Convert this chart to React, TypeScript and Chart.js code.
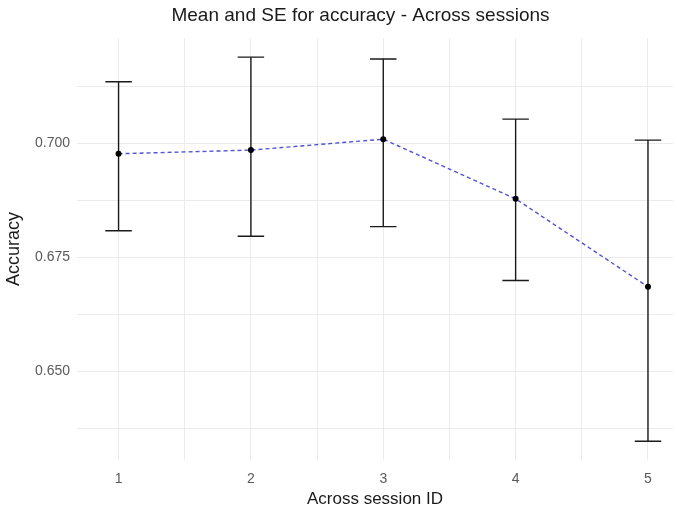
import React, { useEffect, useRef } from "react";
import { Chart, registerables } from "chart.js";

Chart.register(...registerables);

const sessions = [1, 2, 3, 4, 5];
const meanAcc = [0.6977, 0.6985, 0.7009, 0.6878, 0.6685];
const upperAcc = [0.7135, 0.7189, 0.7185, 0.7053, 0.7007];
const lowerAcc = [0.6808, 0.6796, 0.6817, 0.6699, 0.6346];

const xTicks = [1, 1.5, 2, 2.5, 3, 3.5, 4, 4.5, 5];
const xLabels = ["1", "2", "3", "4", "5"];
const yTicks = [0.6375, 0.65, 0.6625, 0.675, 0.6875, 0.7, 0.7125];
const yLabels = ["0.650", "0.675", "0.700"];
const chartTitle = "Mean and SE for accuracy - Across sessions";

const FONT = "'Liberation Sans', Arial, sans-serif";

const errorBarPlugin = {
  id: "errorBars",
  beforeDatasetsDraw(chart: any) {
    const { ctx, scales } = chart;
    const xs = scales.x;
    const ys = scales.y;
    ctx.save();
    ctx.strokeStyle = "#1a1a1a";
    ctx.lineWidth = 1.4;
    sessions.forEach((s, i) => {
      const x = xs.getPixelForValue(s);
      const xl = xs.getPixelForValue(s - 0.1);
      const xr = xs.getPixelForValue(s + 0.1);
      const yt = ys.getPixelForValue(upperAcc[i]);
      const yb = ys.getPixelForValue(lowerAcc[i]);
      ctx.beginPath();
      ctx.moveTo(x, yt);
      ctx.lineTo(x, yb);
      ctx.moveTo(xl, yt);
      ctx.lineTo(xr, yt);
      ctx.moveTo(xl, yb);
      ctx.lineTo(xr, yb);
      ctx.stroke();
    });
    ctx.restore();
  },
  afterDraw(chart: any) {
    const { ctx } = chart;
    ctx.save();
    ctx.fillStyle = "#1a1a1a";
    ctx.font = `19px ${FONT}`;
    ctx.textAlign = "center";
    ctx.textBaseline = "middle";
    ctx.fillText(chartTitle, 360.5, 16);
    ctx.restore();
  },
};

export default function App() {
  const ref = useRef<HTMLCanvasElement | null>(null);
  useEffect(() => {
    if (!ref.current) return;
    const chart = new Chart(ref.current, {
      type: "line",
      data: {
        datasets: [
          {
            data: sessions.map((s, i) => ({ x: s, y: meanAcc[i] })),
            borderColor: "#5252d6",
            borderWidth: 1.4,
            borderDash: [4, 3],
            pointRadius: 3,
            pointBackgroundColor: "#000000",
            pointBorderWidth: 0,
            tension: 0,
          },
        ],
      },
      options: {
        animation: false,
        responsive: false,
        maintainAspectRatio: false,
        layout: { padding: { left: 0, right: 0, top: 38, bottom: 2 } },
        plugins: {
          legend: { display: false },
          tooltip: { enabled: false },
          title: { display: false },
        },
        scales: {
          x: {
            type: "linear",
            min: 0.686,
            max: 5.189,
            afterBuildTicks: (axis: any) => {
              axis.ticks = xTicks.map((v) => ({ value: v }));
            },
            afterFit: (axis: any) => {
              axis.height = 50;
            },
            ticks: {
              autoSkip: false,
              maxRotation: 0,
              color: "#5a5a5a",
              padding: 11,
              font: { family: FONT, size: 14 },
              callback: (v: any) => (xLabels.includes(String(v)) ? String(v) : ""),
            },
            grid: { color: "#ebebeb", drawTicks: false, lineWidth: 1 },
            border: { display: false },
            title: {
              display: true,
              text: "Across session ID",
              color: "#1a1a1a",
              font: { family: FONT, size: 17 },
              padding: { top: 0, bottom: 0 },
            },
          },
          y: {
            type: "linear",
            min: 0.6305,
            max: 0.7231,
            afterBuildTicks: (axis: any) => {
              axis.ticks = yTicks.map((v) => ({ value: v }));
            },
            afterFit: (axis: any) => {
              axis.width = 77;
            },
            ticks: {
              autoSkip: false,
              color: "#5a5a5a",
              padding: 7,
              font: { family: FONT, size: 14 },
              callback: (v: any) => {
                const s = Number(v).toFixed(3);
                return yLabels.includes(s) && Math.abs(Number(v) * 1000 - Math.round(Number(v) * 1000)) < 1e-6 ? s : "";
              },
            },
            grid: { color: "#ebebeb", drawTicks: false, lineWidth: 1 },
            border: { display: false },
            title: {
              display: true,
              text: "Accuracy",
              color: "#1a1a1a",
              font: { family: FONT, size: 18 },
              padding: { top: 3, bottom: 0 },
            },
          },
        },
      },
      plugins: [errorBarPlugin],
    });
    return () => chart.destroy();
  }, []);
  return (
    <div style={{ position: "fixed", left: 0, top: 0, width: 677, height: 512, background: "#fff" }}>
      <canvas ref={ref} width={677} height={512} style={{ width: 677, height: 512 }} />
    </div>
  );
}
